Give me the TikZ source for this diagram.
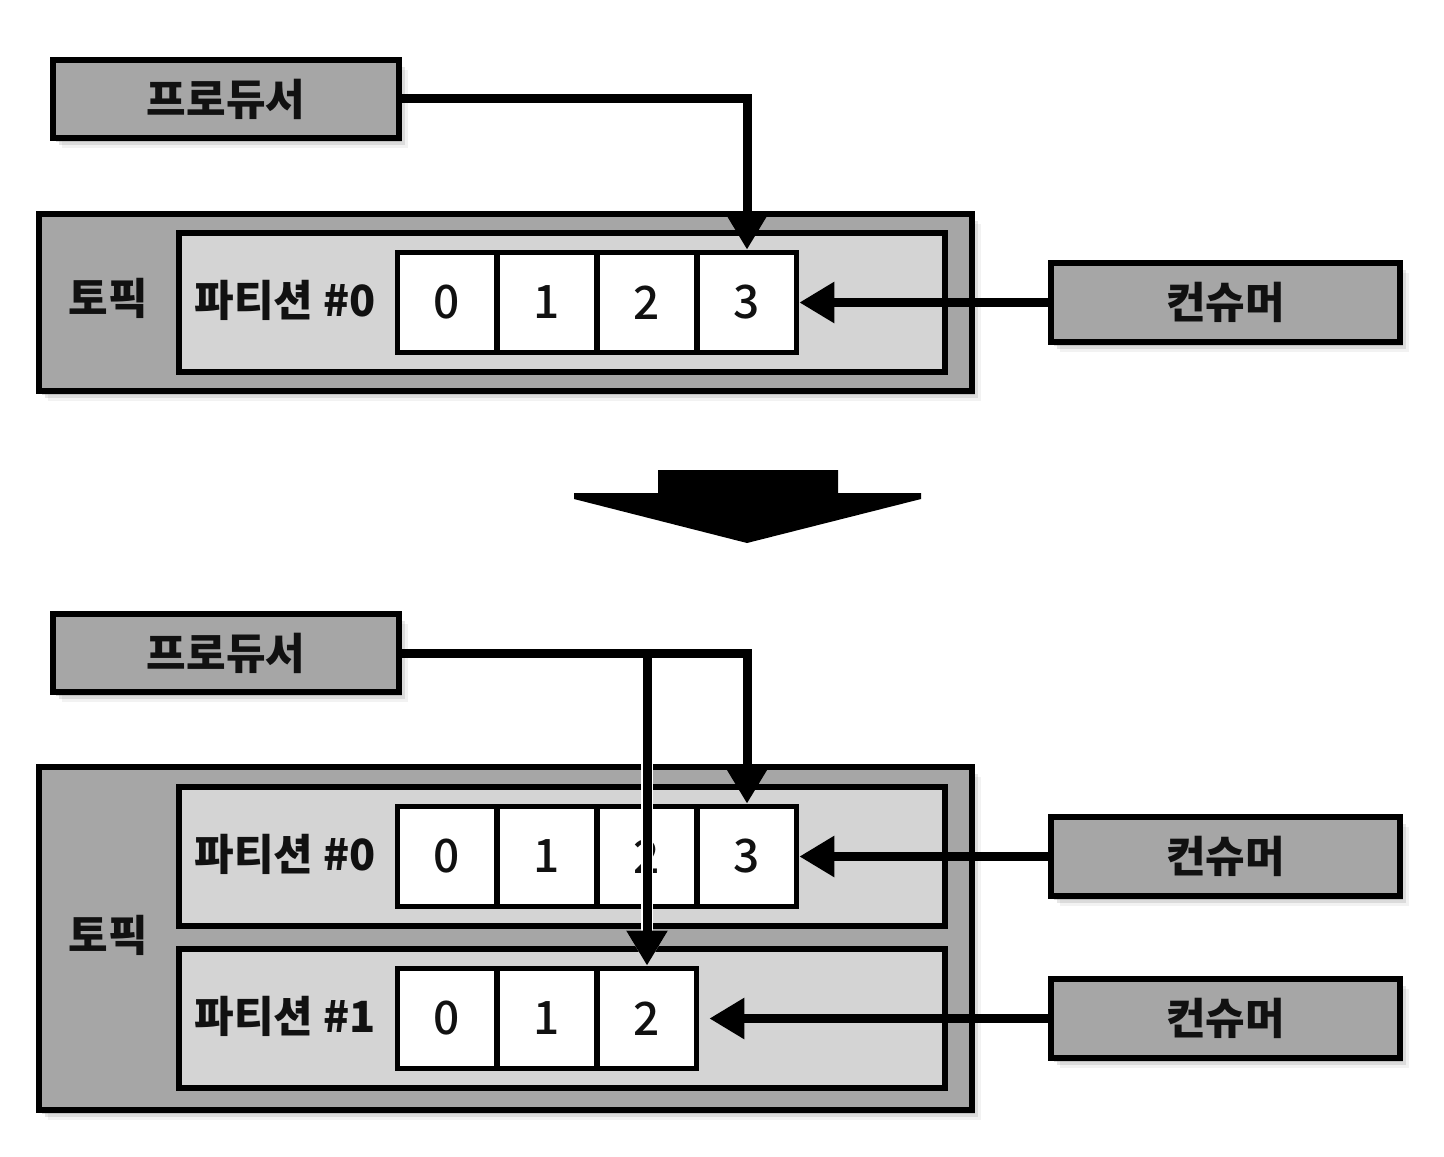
\documentclass[tikz,border=0pt]{standalone}
\usepackage{fontspec}
\setmainfont{Noto Sans CJK KR}
\newfontfamily\cellfont{Noto Sans CJK KR}[UprightFont=* Medium]
\usetikzlibrary{arrows.meta,shadows}
\definecolor{boxgray}{HTML}{A6A6A6}
\definecolor{partgray}{HTML}{D4D4D4}
\definecolor{ink}{HTML}{111111}

\begin{document}
\begin{tikzpicture}[x=0.5pt,y=-0.5pt,>={Triangle[length=17.5pt,width=19.5pt]},
		soft/.style={drop shadow={shadow xshift=1.5pt,shadow yshift=-2pt,opacity=.3},
			drop shadow={shadow xshift=3pt,shadow yshift=-3.5pt,opacity=.2},
			drop shadow={shadow xshift=4.5pt,shadow yshift=-5pt,opacity=.1}},
		box/.style={draw=black,line width=2.8pt,inner sep=0pt,text=ink,
			font=\bfseries\fontsize{21.5}{21.5}\selectfont},
		prodbox/.style={box,soft,fill=boxgray,minimum width=173pt,minimum height=39pt},
		consbox/.style={box,soft,fill=boxgray,minimum width=174.5pt,minimum height=39.5pt},
		topicbox/.style={box,soft,fill=boxgray,minimum width=466.5pt},
		partbox/.style={box,fill=partgray,minimum width=383pt,minimum height=69.5pt},
		cellbox/.style={box,fill=white,minimum width=49.5pt,minimum height=50pt,
			font=\cellfont\fontsize{23}{23}\selectfont},
		lbl/.style={inner sep=0pt,text=ink,font=\bfseries\fontsize{21.5}{21.5}\selectfont},
		flow/.style={line width=4.5pt,line join=miter,->},
		halo/.style={preaction={draw=white,line width=6pt}}]
		\useasboundingbox (0,0) rectangle (1444,1156);
		
		% before
		\node[prodbox] (prod1) at (226,99) {프로듀서};
		\node[topicbox,minimum height=88.5pt] (topic1) at (505.5,302.5) {};
		\node[lbl] (tlbl1) at (108,298) {토픽};
		\node[partbox] (part1) at (562,302.5) {};
		\node[lbl] (plbl1) at (285,300) {파티션 \#0};
		\foreach \X [count=\Y from 0] in {447,547,647,747}
		{\node[cellbox] (a\Y) at (\X,302.5) {\Y};}
		\node[consbox] (cons1) at (1225.5,302.5) {컨슈머};
		
		\draw[flow] (prod1.east) -| (a3.north);
		\draw[flow] (cons1.west) -- (a3.east);
		
		% big arrow
		\fill[black] (658,470) -- (838,470) -- (838,493) -- (921,493) -- (921,499)
		-- (747,543) -- (574,499) -- (574,493) -- (658,493) -- cycle;
		
		% after
		\node[prodbox] (prod2) at (226,653) {프로듀서};
		\node[topicbox,minimum height=171.5pt] (topic2) at (505.5,938.5) {};
		\node[lbl] (tlbl2) at (108,935) {토픽};
		\node[partbox] (part2a) at (562,856.5) {};
		\node[partbox] (part2b) at (562,1018.5) {};
		\node[lbl] (plbl2a) at (285,854) {파티션 \#0};
		\node[lbl] (plbl2b) at (285,1016) {파티션 \#1};
		\foreach \X [count=\Y from 0] in {447,547,647,747}
		{\node[cellbox] (b\Y) at (\X,856.5) {\Y};}
		\foreach \X [count=\Y from 0] in {447,547,647}
		{\node[cellbox] (c\Y) at (\X,1018.5) {\Y};}
		\node[consbox] (cons2) at (1225.5,856.5) {컨슈머};
		\node[consbox] (cons3) at (1225.5,1018.5) {컨슈머};
		
		\coordinate (split) at (prod2.east -| c2.north);
		\draw[flow,halo] (split) -- (c2.north);
		\draw[flow] (prod2.east) -| (b3.north);
		\draw[flow] (cons2.west) -- (b3.east);
		\draw[flow,shorten >=5pt] (cons3.west) -- (c2.east);
	\end{tikzpicture}
\end{document}
